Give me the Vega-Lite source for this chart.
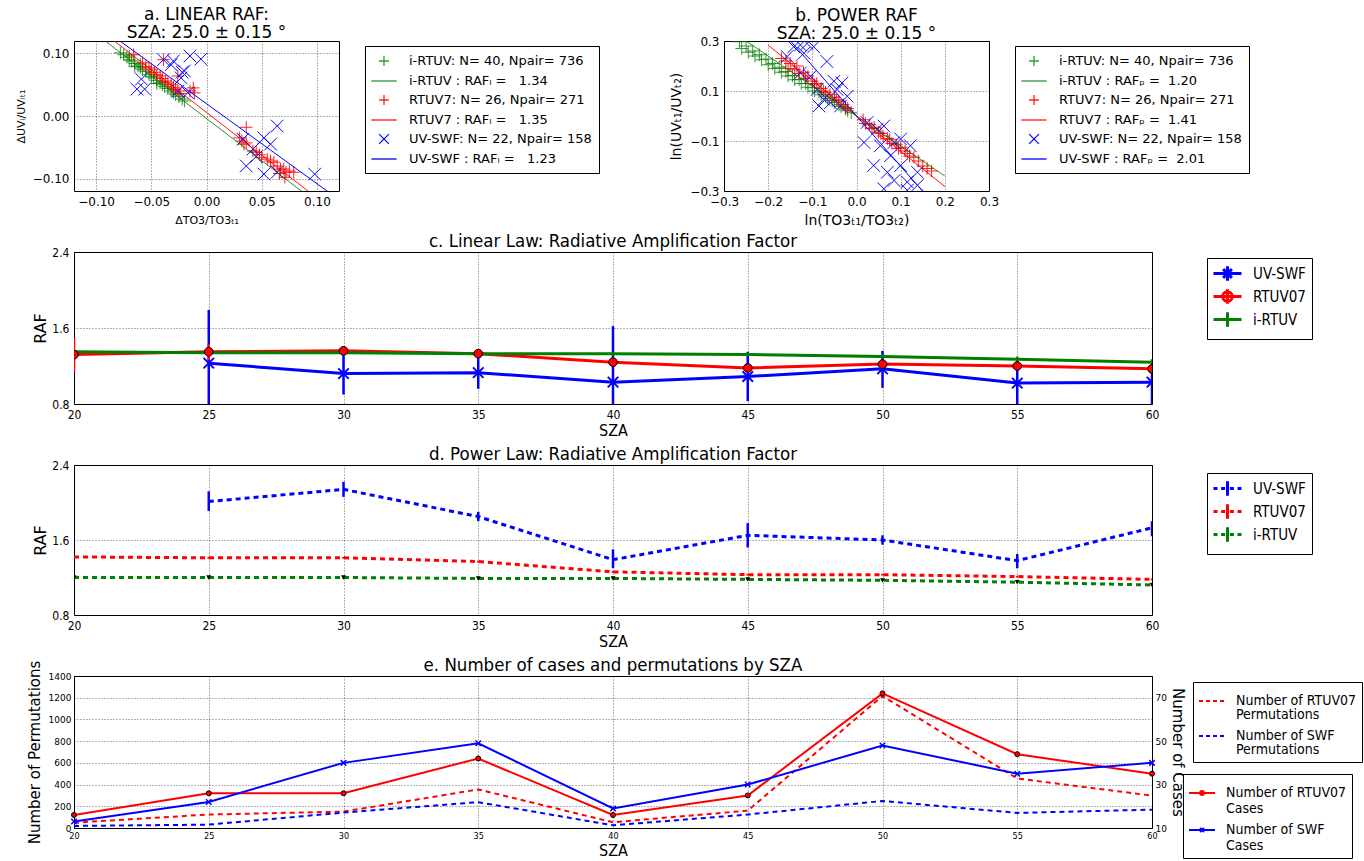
{
"$schema":"https://vega.github.io/schema/vega-lite/v6.json",
"background":"white",
"padding":{"left":14,"top":5,"right":2,"bottom":2},
"bounds":"flush",
"spacing":650,
"resolve":{"scale":{"color":"independent","shape":"independent","opacity":"independent"},"legend":{"color":"independent","shape":"independent","opacity":"independent"}},
"config":{
 "font":"DejaVu Sans",
 "view":{"stroke":"#000","strokeWidth":1},
 "axis":{"grid":true,"gridColor":"#000","gridDash":[1,2],"gridOpacity":0.75,"gridWidth":0.8,"domain":false,"ticks":false,"labelColor":"#000","titleColor":"#000","titleFontWeight":"normal","labelPadding":5,"labelOverlap":false,"labelFlush":false},
 "title":{"fontWeight":"normal","fontSize":17,"color":"#000","frame":"group"},
 "legend":{"strokeColor":"#000","fillColor":"#fff","labelColor":"#000","layout":{"right":{"anchor":"start","direction":"vertical","margin":18}}}
},
"datasets":{
 "ptsA":[
  {"s":"gp","x":-0.078,"y":0.101},{"s":"gp","x":-0.075,"y":0.098},{"s":"gp","x":-0.072,"y":0.094},{"s":"gp","x":-0.07,"y":0.09},{"s":"gp","x":-0.068,"y":0.088},{"s":"gp","x":-0.065,"y":0.084},{"s":"gp","x":-0.062,"y":0.08},{"s":"gp","x":-0.06,"y":0.077},{"s":"gp","x":-0.058,"y":0.074},{"s":"gp","x":-0.055,"y":0.071},{"s":"gp","x":-0.052,"y":0.066},{"s":"gp","x":-0.05,"y":0.063},{"s":"gp","x":-0.048,"y":0.061},{"s":"gp","x":-0.045,"y":0.057},{"s":"gp","x":-0.042,"y":0.053},{"s":"gp","x":-0.04,"y":0.05},{"s":"gp","x":-0.038,"y":0.047},{"s":"gp","x":-0.035,"y":0.044},{"s":"gp","x":-0.032,"y":0.04},{"s":"gp","x":-0.03,"y":0.037},{"s":"gp","x":-0.028,"y":0.034},{"s":"gp","x":-0.025,"y":0.031},{"s":"gp","x":-0.022,"y":0.027},{"s":"gp","x":-0.02,"y":0.024},{"s":"gp","x":-0.07,"y":0.096},{"s":"gp","x":-0.06,"y":0.083},{"s":"gp","x":-0.05,"y":0.069},{"s":"gp","x":-0.04,"y":0.055},{"s":"gp","x":-0.03,"y":0.042},{"s":"gp","x":-0.065,"y":0.079},{"s":"gp","x":-0.045,"y":0.052},
  {"s":"rp","x":-0.058,"y":0.085},{"s":"rp","x":-0.055,"y":0.079},{"s":"rp","x":-0.052,"y":0.077},{"s":"rp","x":-0.05,"y":0.074},{"s":"rp","x":-0.047,"y":0.07},{"s":"rp","x":-0.045,"y":0.066},{"s":"rp","x":-0.042,"y":0.064},{"s":"rp","x":-0.04,"y":0.06},{"s":"rp","x":-0.037,"y":0.056},{"s":"rp","x":-0.035,"y":0.053},{"s":"rp","x":-0.032,"y":0.05},{"s":"rp","x":-0.03,"y":0.046},{"s":"rp","x":-0.028,"y":0.043},{"s":"rp","x":-0.026,"y":0.04},{"s":"rp","x":-0.024,"y":0.036},{"s":"rp","x":-0.066,"y":0.098},{"s":"rp","x":-0.039,"y":0.09},{"s":"rp","x":-0.026,"y":0.064},{"s":"rp","x":-0.012,"y":0.045},{"s":"rp","x":-0.011,"y":0.037},{"s":"rp","x":-0.015,"y":0.04},
  {"s":"rp","x":0.036,"y":-0.018},{"s":"rp","x":0.03,"y":-0.035},{"s":"rp","x":0.032,"y":-0.04},{"s":"rp","x":0.034,"y":-0.045},{"s":"rp","x":0.036,"y":-0.043},{"s":"rp","x":0.042,"y":-0.056},{"s":"rp","x":0.045,"y":-0.058},{"s":"rp","x":0.048,"y":-0.062},{"s":"rp","x":0.05,"y":-0.066},{"s":"rp","x":0.055,"y":-0.069},{"s":"rp","x":0.058,"y":-0.072},{"s":"rp","x":0.061,"y":-0.074},{"s":"rp","x":0.064,"y":-0.08},{"s":"rp","x":0.067,"y":-0.085},{"s":"rp","x":0.07,"y":-0.085},{"s":"rp","x":0.072,"y":-0.09},{"s":"rp","x":0.075,"y":-0.088},{"s":"rp","x":0.079,"y":-0.09},{"s":"rp","x":0.071,"y":-0.098},{"s":"rp","x":0.066,"y":-0.092},
  {"s":"bp","x":-0.063,"y":0.043},{"s":"bp","x":-0.059,"y":0.059},{"s":"bp","x":-0.056,"y":0.043},{"s":"bp","x":-0.039,"y":0.09},{"s":"bp","x":-0.03,"y":0.088},{"s":"bp","x":-0.032,"y":0.082},{"s":"bp","x":-0.023,"y":0.061},{"s":"bp","x":-0.02,"y":0.072},{"s":"bp","x":-0.015,"y":0.096},{"s":"bp","x":-0.005,"y":0.091},{"s":"bp","x":-0.017,"y":0.037},{"s":"bp","x":-0.026,"y":0.04},{"s":"bp","x":-0.022,"y":0.07},{"s":"bp","x":0.033,"y":-0.037},{"s":"bp","x":0.042,"y":-0.053},{"s":"bp","x":0.052,"y":-0.035},{"s":"bp","x":0.064,"y":-0.016},{"s":"bp","x":0.058,"y":-0.045},{"s":"bp","x":0.036,"y":-0.08},{"s":"bp","x":0.052,"y":-0.093},{"s":"bp","x":0.064,"y":-0.09},{"s":"bp","x":0.098,"y":-0.093},{"s":"bp","x":0.045,"y":-0.065}
 ],
 "linA":[
  {"s":"gl","x":-0.0915,"y":0.1197},{"s":"gl","x":0.0864,"y":-0.1207},
  {"s":"rl","x":-0.0833,"y":0.1197},{"s":"rl","x":0.0924,"y":-0.1207},
  {"s":"bl","x":-0.0782,"y":0.1197},{"s":"bl","x":0.1097,"y":-0.1207}
 ],
 "ptsB":[
  {"s":"gp","x":-0.265,"y":0.297},{"s":"gp","x":-0.26,"y":0.27},{"s":"gp","x":-0.25,"y":0.28},{"s":"gp","x":-0.245,"y":0.255},{"s":"gp","x":-0.235,"y":0.26},{"s":"gp","x":-0.23,"y":0.24},{"s":"gp","x":-0.22,"y":0.245},{"s":"gp","x":-0.215,"y":0.225},{"s":"gp","x":-0.205,"y":0.228},{"s":"gp","x":-0.2,"y":0.205},{"s":"gp","x":-0.19,"y":0.21},{"s":"gp","x":-0.185,"y":0.19},{"s":"gp","x":-0.175,"y":0.195},{"s":"gp","x":-0.17,"y":0.175},{"s":"gp","x":-0.16,"y":0.178},{"s":"gp","x":-0.155,"y":0.16},{"s":"gp","x":-0.145,"y":0.162},{"s":"gp","x":-0.14,"y":0.145},{"s":"gp","x":-0.13,"y":0.146},{"s":"gp","x":-0.125,"y":0.13},{"s":"gp","x":-0.115,"y":0.13},{"s":"gp","x":-0.11,"y":0.115},{"s":"gp","x":-0.1,"y":0.113},{"s":"gp","x":-0.095,"y":0.1},{"s":"gp","x":-0.085,"y":0.095},{"s":"gp","x":-0.08,"y":0.085},{"s":"gp","x":-0.07,"y":0.079},{"s":"gp","x":-0.065,"y":0.07},{"s":"gp","x":-0.055,"y":0.062},{"s":"gp","x":-0.05,"y":0.054},{"s":"gp","x":-0.04,"y":0.045},{"s":"gp","x":-0.035,"y":0.038},{"s":"gp","x":-0.025,"y":0.028},{"s":"gp","x":-0.02,"y":0.021},{"s":"gp","x":-0.012,"y":0.013},
  {"s":"rp","x":-0.17,"y":0.23},{"s":"rp","x":-0.16,"y":0.22},{"s":"rp","x":-0.155,"y":0.19},{"s":"rp","x":-0.15,"y":0.21},{"s":"rp","x":-0.14,"y":0.185},{"s":"rp","x":-0.135,"y":0.2},{"s":"rp","x":-0.13,"y":0.17},{"s":"rp","x":-0.12,"y":0.175},{"s":"rp","x":-0.115,"y":0.15},{"s":"rp","x":-0.11,"y":0.16},{"s":"rp","x":-0.1,"y":0.14},{"s":"rp","x":-0.095,"y":0.125},{"s":"rp","x":-0.09,"y":0.13},{"s":"rp","x":-0.08,"y":0.11},{"s":"rp","x":-0.075,"y":0.1},{"s":"rp","x":-0.07,"y":0.095},{"s":"rp","x":-0.06,"y":0.085},{"s":"rp","x":-0.05,"y":0.075},{"s":"rp","x":-0.045,"y":0.065},{"s":"rp","x":-0.04,"y":0.06},{"s":"rp","x":-0.03,"y":0.045},{"s":"rp","x":-0.025,"y":0.035},{"s":"rp","x":-0.02,"y":0.03},
  {"s":"rp","x":0.015,"y":-0.015},{"s":"rp","x":0.02,"y":-0.03},{"s":"rp","x":0.03,"y":-0.035},{"s":"rp","x":0.035,"y":-0.05},{"s":"rp","x":0.04,"y":-0.045},{"s":"rp","x":0.05,"y":-0.065},{"s":"rp","x":0.055,"y":-0.07},{"s":"rp","x":0.06,"y":-0.08},{"s":"rp","x":0.07,"y":-0.09},{"s":"rp","x":0.075,"y":-0.095},{"s":"rp","x":0.08,"y":-0.11},{"s":"rp","x":0.09,"y":-0.115},{"s":"rp","x":0.095,"y":-0.13},{"s":"rp","x":0.1,"y":-0.125},{"s":"rp","x":0.11,"y":-0.14},{"s":"rp","x":0.115,"y":-0.15},{"s":"rp","x":0.12,"y":-0.16},{"s":"rp","x":0.13,"y":-0.165},{"s":"rp","x":0.14,"y":-0.18},{"s":"rp","x":0.15,"y":-0.2},{"s":"rp","x":0.16,"y":-0.21},{"s":"rp","x":0.17,"y":-0.22},
  {"s":"bp","x":-0.142,"y":0.277},{"s":"bp","x":-0.127,"y":0.284},{"s":"bp","x":-0.112,"y":0.29},{"s":"bp","x":-0.097,"y":0.277},{"s":"bp","x":-0.119,"y":0.251},{"s":"bp","x":-0.157,"y":0.238},{"s":"bp","x":-0.067,"y":0.218},{"s":"bp","x":-0.051,"y":0.139},{"s":"bp","x":-0.033,"y":0.132},{"s":"bp","x":-0.021,"y":0.079},{"s":"bp","x":-0.059,"y":0.053},{"s":"bp","x":-0.036,"y":0.04},{"s":"bp","x":-0.085,"y":0.04},{"s":"bp","x":-0.104,"y":0.159},{"s":"bp","x":-0.127,"y":0.172},{"s":"bp","x":-0.089,"y":0.106},{"s":"bp","x":-0.044,"y":0.106},{"s":"bp","x":-0.074,"y":0.066},
  {"s":"bp","x":0.024,"y":-0.026},{"s":"bp","x":0.047,"y":-0.053},{"s":"bp","x":0.062,"y":-0.04},{"s":"bp","x":0.017,"y":-0.106},{"s":"bp","x":0.054,"y":-0.119},{"s":"bp","x":0.085,"y":-0.106},{"s":"bp","x":0.1,"y":-0.092},{"s":"bp","x":0.122,"y":-0.119},{"s":"bp","x":0.077,"y":-0.159},{"s":"bp","x":0.039,"y":-0.198},{"s":"bp","x":0.07,"y":-0.225},{"s":"bp","x":0.1,"y":-0.198},{"s":"bp","x":0.085,"y":-0.258},{"s":"bp","x":0.115,"y":-0.264},{"s":"bp","x":0.138,"y":-0.225},{"s":"bp","x":0.062,"y":-0.291},{"s":"bp","x":0.115,"y":-0.297},{"s":"bp","x":0.138,"y":-0.277}
 ],
 "linB":[
  {"s":"gl","x":-0.26,"y":0.312},{"s":"gl","x":0.2,"y":-0.24},
  {"s":"rl","x":-0.2,"y":0.283},{"s":"rl","x":0.2,"y":-0.282},
  {"s":"bl","x":-0.15,"y":0.3015},{"s":"bl","x":0.15,"y":-0.3015}
 ],
 "c":[
  {"s":"UV-SWF","sza":25,"raf":1.23,"lo":0.7,"hi":1.79},{"s":"UV-SWF","sza":30,"raf":1.12,"lo":0.9,"hi":1.35},{"s":"UV-SWF","sza":35,"raf":1.13,"lo":0.96,"hi":1.31},{"s":"UV-SWF","sza":40,"raf":1.03,"lo":0.7,"hi":1.62},{"s":"UV-SWF","sza":45,"raf":1.09,"lo":0.83,"hi":1.35},{"s":"UV-SWF","sza":50,"raf":1.17,"lo":0.97,"hi":1.36},{"s":"UV-SWF","sza":55,"raf":1.02,"lo":0.7,"hi":1.25},{"s":"UV-SWF","sza":60,"raf":1.03,"lo":0.7,"hi":1.14},
  {"s":"RTUV07","sza":20,"raf":1.32,"lo":1.13,"hi":1.5},{"s":"RTUV07","sza":25,"raf":1.35,"lo":1.26,"hi":1.43},{"s":"RTUV07","sza":30,"raf":1.36,"lo":1.33,"hi":1.39},{"s":"RTUV07","sza":35,"raf":1.33,"lo":1.3,"hi":1.36},{"s":"RTUV07","sza":40,"raf":1.24,"lo":1.21,"hi":1.27},{"s":"RTUV07","sza":45,"raf":1.18,"lo":1.15,"hi":1.21},{"s":"RTUV07","sza":50,"raf":1.22,"lo":1.19,"hi":1.25},{"s":"RTUV07","sza":55,"raf":1.2,"lo":1.17,"hi":1.23},{"s":"RTUV07","sza":60,"raf":1.17,"lo":1.14,"hi":1.2},
  {"s":"i-RTUV","sza":20,"raf":1.35,"lo":1.33,"hi":1.37},{"s":"i-RTUV","sza":25,"raf":1.34,"lo":1.32,"hi":1.36},{"s":"i-RTUV","sza":30,"raf":1.34,"lo":1.32,"hi":1.36},{"s":"i-RTUV","sza":35,"raf":1.33,"lo":1.31,"hi":1.35},{"s":"i-RTUV","sza":40,"raf":1.33,"lo":1.31,"hi":1.35},{"s":"i-RTUV","sza":45,"raf":1.32,"lo":1.3,"hi":1.34},{"s":"i-RTUV","sza":50,"raf":1.3,"lo":1.28,"hi":1.32},{"s":"i-RTUV","sza":55,"raf":1.27,"lo":1.24,"hi":1.3},{"s":"i-RTUV","sza":60,"raf":1.24,"lo":1.21,"hi":1.27}
 ],
 "d":[
  {"s":"UV-SWF","sza":25,"raf":2.01,"lo":1.91,"hi":2.12},{"s":"UV-SWF","sza":30,"raf":2.14,"lo":2.06,"hi":2.22},{"s":"UV-SWF","sza":35,"raf":1.85,"lo":1.8,"hi":1.9},{"s":"UV-SWF","sza":40,"raf":1.39,"lo":1.3,"hi":1.5},{"s":"UV-SWF","sza":45,"raf":1.65,"lo":1.52,"hi":1.78},{"s":"UV-SWF","sza":50,"raf":1.6,"lo":1.55,"hi":1.65},{"s":"UV-SWF","sza":55,"raf":1.38,"lo":1.3,"hi":1.45},{"s":"UV-SWF","sza":60,"raf":1.73,"lo":1.64,"hi":1.8},
  {"s":"RTUV07","sza":20,"raf":1.42,"lo":1.41,"hi":1.43},{"s":"RTUV07","sza":25,"raf":1.41,"lo":1.4,"hi":1.42},{"s":"RTUV07","sza":30,"raf":1.41,"lo":1.4,"hi":1.42},{"s":"RTUV07","sza":35,"raf":1.37,"lo":1.36,"hi":1.38},{"s":"RTUV07","sza":40,"raf":1.26,"lo":1.25,"hi":1.27},{"s":"RTUV07","sza":45,"raf":1.23,"lo":1.22,"hi":1.24},{"s":"RTUV07","sza":50,"raf":1.23,"lo":1.22,"hi":1.24},{"s":"RTUV07","sza":55,"raf":1.21,"lo":1.2,"hi":1.22},{"s":"RTUV07","sza":60,"raf":1.18,"lo":1.17,"hi":1.19},
  {"s":"i-RTUV","sza":20,"raf":1.2,"lo":1.19,"hi":1.21},{"s":"i-RTUV","sza":25,"raf":1.2,"lo":1.19,"hi":1.21},{"s":"i-RTUV","sza":30,"raf":1.2,"lo":1.19,"hi":1.21},{"s":"i-RTUV","sza":35,"raf":1.19,"lo":1.18,"hi":1.2},{"s":"i-RTUV","sza":40,"raf":1.19,"lo":1.18,"hi":1.2},{"s":"i-RTUV","sza":45,"raf":1.18,"lo":1.17,"hi":1.19},{"s":"i-RTUV","sza":50,"raf":1.17,"lo":1.16,"hi":1.18},{"s":"i-RTUV","sza":55,"raf":1.15,"lo":1.14,"hi":1.16},{"s":"i-RTUV","sza":60,"raf":1.12,"lo":1.11,"hi":1.13}
 ],
 "ePerm":[
  {"s":"RP","sza":20,"v":49},{"s":"RP","sza":25,"v":124},{"s":"RP","sza":30,"v":151},{"s":"RP","sza":35,"v":355},{"s":"RP","sza":40,"v":53},{"s":"RP","sza":45,"v":160},{"s":"RP","sza":50,"v":1216},{"s":"RP","sza":55,"v":456},{"s":"RP","sza":60,"v":298},
  {"s":"SP","sza":20,"v":19},{"s":"SP","sza":25,"v":31},{"s":"SP","sza":30,"v":142},{"s":"SP","sza":35,"v":238},{"s":"SP","sza":40,"v":25},{"s":"SP","sza":45,"v":124},{"s":"SP","sza":50,"v":249},{"s":"SP","sza":55,"v":139},{"s":"SP","sza":60,"v":169}
 ],
 "eCase":[
  {"s":"RC","sza":20,"v":16},{"s":"RC","sza":25,"v":26},{"s":"RC","sza":30,"v":26},{"s":"RC","sza":35,"v":42},{"s":"RC","sza":40,"v":16},{"s":"RC","sza":45,"v":25},{"s":"RC","sza":50,"v":72},{"s":"RC","sza":55,"v":44},{"s":"RC","sza":60,"v":35},
  {"s":"SC","sza":20,"v":13},{"s":"SC","sza":25,"v":22},{"s":"SC","sza":30,"v":40},{"s":"SC","sza":35,"v":49},{"s":"SC","sza":40,"v":19},{"s":"SC","sza":45,"v":30},{"s":"SC","sza":50,"v":48},{"s":"SC","sza":55,"v":35},{"s":"SC","sza":60,"v":40}
 ]
},
"hconcat":[
 {"vconcat":[
  {"width":265,"height":150,
   "title":{"text":["a. LINEAR RAF:","SZA: 25.0 ± 0.15 °"],"fontSize":17,"lineHeight":18,"offset":-1},
   "layer":[
    {"data":{"name":"ptsA"},
     "mark":{"type":"point","filled":false,"strokeWidth":1,"size":324,"clip":true},
     "encoding":{
      "x":{"field":"x","type":"quantitative","scale":{"domain":[-0.12,0.12],"nice":false,"zero":false},"axis":{"values":[-0.1,-0.05,0,0.05,0.1],"format":".2f","labelFontSize":12,"labelOverlap":false,"title":"ΔTO3/TO3ₜ₁","titleFontSize":11,"titlePadding":7}},
      "y":{"field":"y","type":"quantitative","scale":{"domain":[-0.12,0.12],"nice":false,"zero":false},"axis":{"values":[-0.1,-0.05,0,0.05,0.1],"format":".2f","labelFontSize":12,"labelOverlap":false,"title":"ΔUVᵢ/UVᵢₜ₁","titleFontSize":11,"titlePadding":6}},
      "color":{"field":"s","type":"nominal","scale":{"domain":["gp","gl","rp","rl","bp","bl"],"range":["#008000","#008000","#ff0000","#ff0000","#0000ff","#0000ff"]},
        "legend":{"title":null,"orient":"none","legendX":291,"legendY":5,"padding":7,"strokeColor":"#000","labelFontSize":13,"symbolSize":196,"symbolOffset":4,"symbolStrokeWidth":1.3,"rowPadding":4,"labelOffset":17,"labelLimit":400,
          "labelExpr":"datum.label==='gp' ? 'i-RTUV: N= 40, Npair= 736' : datum.label==='gl' ? 'i-RTUV : RAFₗ =\u00a0\u00a0 1.34' : datum.label==='rp' ? 'RTUV7: N= 26, Npair= 271' : datum.label==='rl' ? 'RTUV7 : RAFₗ =\u00a0\u00a0 1.35' : datum.label==='bp' ? 'UV-SWF: N= 22, Npair= 158' : 'UV-SWF : RAFₗ =\u00a0\u00a0 1.23'"}},
      "shape":{"field":"s","type":"nominal","scale":{"domain":["gp","gl","rp","rl","bp","bl"],"range":["M-0.7,0L0.7,0M0,-0.7L0,0.7","M-1.8,0L1.8,0","M-0.7,0L0.7,0M0,-0.7L0,0.7","M-1.8,0L1.8,0","M-0.7,-0.7L0.7,0.7M-0.7,0.7L0.7,-0.7","M-1.8,0L1.8,0"]}},
      "opacity":{"field":"s","type":"nominal","scale":{"domain":["gp","gl","rp","rl","bp","bl"],"range":[0.8,1,0.4,1,0.3,1]}}
     }},
    {"data":{"name":"linA"},"mark":{"type":"line","strokeWidth":1,"clip":true},
     "encoding":{"x":{"field":"x","type":"quantitative"},"y":{"field":"y","type":"quantitative"},
      "color":{"field":"s","type":"nominal","scale":{"domain":["gp","gl","rp","rl","bp","bl"],"range":["#008000","#008000","#ff0000","#ff0000","#0000ff","#0000ff"]}},
      "opacity":{"field":"s","type":"nominal","scale":{"domain":["gp","gl","rp","rl","bp","bl"],"range":[0.8,1,0.4,1,0.3,1]}}}}
   ]},
  {"width":1078,"height":152,
   "title":{"text":"c. Linear Law: Radiative Amplification Factor","font":"DejaVu Sans Condensed, Liberation Sans Narrow, DejaVu Sans","fontSize":18.5,"offset":1,"dy":5},
   "data":{"name":"c"},
   "encoding":{"x":{"field":"sza","type":"quantitative","scale":{"domain":[20,60],"nice":false,"zero":false},"axis":{"values":[20,25,30,35,40,45,50,55,60],"title":"SZA","labelOverlap":false,"labelFont":"DejaVu Sans Condensed, Liberation Sans Narrow, DejaVu Sans","labelFontSize":12,"titleFont":"DejaVu Sans Condensed, Liberation Sans Narrow, DejaVu Sans","titleFontSize":16,"titlePadding":2}}},
   "layer":[
    {"mark":{"type":"rule","strokeWidth":2.5,"clip":true},
     "encoding":{"y":{"field":"lo","type":"quantitative","scale":{"domain":[0.8,2.4],"nice":false,"zero":false},"axis":{"values":[0.8,1.0,1.2,1.4,1.6,1.8,2.0,2.2,2.4],"format":".1f","labelOverlap":false,"title":"RAF","labelFont":"DejaVu Sans Condensed, Liberation Sans Narrow, DejaVu Sans","labelFontSize":12,"titleFontSize":16,"titlePadding":3}},"y2":{"field":"hi"},
      "color":{"field":"s","type":"nominal","scale":{"domain":["UV-SWF","RTUV07","i-RTUV"],"range":["#0000ff","#ff0000","#008000"]}}}},
    {"mark":{"type":"line","strokeWidth":3,"clip":true},"encoding":{"y":{"field":"raf","type":"quantitative"},"color":{"field":"s","type":"nominal","scale":{"domain":["UV-SWF","RTUV07","i-RTUV"],"range":["#0000ff","#ff0000","#008000"]}}}},
    {"transform":[{"filter":"datum.s==='UV-SWF'"}],"mark":{"type":"point","shape":"M-1,-1L1,1M-1,1L1,-1","filled":false,"stroke":"#0000ff","strokeWidth":2,"size":110,"opacity":1,"clip":true},"encoding":{"y":{"field":"raf","type":"quantitative"}}},
    {"transform":[{"filter":"datum.s==='RTUV07'"}],"mark":{"type":"point","shape":"circle","filled":true,"fill":"#ff0000","stroke":"#000","strokeWidth":1,"size":75,"opacity":1,"clip":true},"encoding":{"y":{"field":"raf","type":"quantitative"}}},
    {"transform":[{"filter":"false"}],"mark":{"type":"point","filled":false,"opacity":1},
     "encoding":{"y":{"field":"raf","type":"quantitative"},
      "color":{"field":"s","type":"nominal","scale":{"domain":["UV-SWF","RTUV07","i-RTUV"],"range":["#0000ff","#ff0000","#008000"]},
       "legend":{"title":null,"orient":"none","legendX":1133,"legendY":6,"padding":6,"strokeColor":"#000","labelFont":"DejaVu Sans Condensed, Liberation Sans Narrow, DejaVu Sans","labelFontSize":15,"symbolSize":256,"symbolOffset":5,"symbolStrokeWidth":3,"rowPadding":-13,"labelOffset":16,
        "encode":{"symbols":{"update":{"fill":{"signal":"datum.value==='RTUV07' ? '#ff0000' : 'transparent'"}}}}}},
      "shape":{"field":"s","type":"nominal","scale":{"domain":["UV-SWF","RTUV07","i-RTUV"],"range":["M-1.75,0L1.75,0M0,-0.9L0,0.9M-0.55,-0.55L0.55,0.55M-0.55,0.55L0.55,-0.55","M-1.75,0L1.75,0M0,-0.9L0,0.9M-0.6,0A0.6,0.6,0,1,0,0.6,0A0.6,0.6,0,1,0,-0.6,0","M-1.75,0L1.75,0M0,-0.9L0,0.9"]}}}}
   ]},
  {"width":1078,"height":150,
   "title":{"text":"d. Power Law: Radiative Amplification Factor","font":"DejaVu Sans Condensed, Liberation Sans Narrow, DejaVu Sans","fontSize":18.5,"offset":1,"dy":5},
   "data":{"name":"d"},
   "encoding":{"x":{"field":"sza","type":"quantitative","scale":{"domain":[20,60],"nice":false,"zero":false},"axis":{"values":[20,25,30,35,40,45,50,55,60],"title":"SZA","labelOverlap":false,"labelFont":"DejaVu Sans Condensed, Liberation Sans Narrow, DejaVu Sans","labelFontSize":12,"titleFont":"DejaVu Sans Condensed, Liberation Sans Narrow, DejaVu Sans","titleFontSize":16,"titlePadding":2}}},
   "layer":[
    {"mark":{"type":"rule","strokeWidth":2.5,"clip":true},
     "encoding":{"y":{"field":"lo","type":"quantitative","scale":{"domain":[0.8,2.4],"nice":false,"zero":false},"axis":{"values":[0.8,1.0,1.2,1.4,1.6,1.8,2.0,2.2,2.4],"format":".1f","labelOverlap":false,"title":"RAF","labelFont":"DejaVu Sans Condensed, Liberation Sans Narrow, DejaVu Sans","labelFontSize":12,"titleFontSize":16,"titlePadding":3}},"y2":{"field":"hi"},
      "color":{"field":"s","type":"nominal","scale":{"domain":["UV-SWF","RTUV07","i-RTUV"],"range":["#0000ff","#ff0000","#008000"]}}}},
    {"mark":{"type":"line","strokeWidth":3,"strokeDash":[5,4],"clip":true},"encoding":{"y":{"field":"raf","type":"quantitative"},"color":{"field":"s","type":"nominal","scale":{"domain":["UV-SWF","RTUV07","i-RTUV"],"range":["#0000ff","#ff0000","#008000"]}}}},
    {"transform":[{"filter":"datum.s==='i-RTUV'"}],"mark":{"type":"point","shape":"triangle-down","filled":true,"fill":"#000","size":25,"opacity":1,"clip":true},"encoding":{"y":{"field":"raf","type":"quantitative"}}},
    {"transform":[{"filter":"false"}],"mark":{"type":"point","filled":false,"opacity":1},
     "encoding":{"y":{"field":"raf","type":"quantitative"},
      "color":{"field":"s","type":"nominal","scale":{"domain":["UV-SWF","RTUV07","i-RTUV"],"range":["#0000ff","#ff0000","#008000"]},
       "legend":{"title":null,"orient":"none","legendX":1133,"legendY":8,"padding":6,"strokeColor":"#000","labelFont":"DejaVu Sans Condensed, Liberation Sans Narrow, DejaVu Sans","labelFontSize":15,"symbolSize":256,"symbolOffset":5,"symbolStrokeWidth":3,"rowPadding":-13,"labelOffset":16}},
      "shape":{"field":"s","type":"nominal","scale":{"domain":["UV-SWF","RTUV07","i-RTUV"],"range":["M-1.75,0L-1.25,0M-0.8,0L-0.3,0M0.3,0L0.8,0M1.25,0L1.75,0M0,-0.9L0,0.9","M-1.75,0L-1.25,0M-0.8,0L-0.3,0M0.3,0L0.8,0M1.25,0L1.75,0M0,-0.9L0,0.9","M-1.75,0L-1.25,0M-0.8,0L-0.3,0M0.3,0L0.8,0M1.25,0L1.75,0M0,-0.9L0,0.9"]}}}}
   ]},
  {"width":1078,"height":152,
   "title":{"text":"e. Number of cases and permutations by SZA","font":"DejaVu Sans Condensed, Liberation Sans Narrow, DejaVu Sans","fontSize":18.5,"offset":1,"dy":15},
   "layer":[
    {"data":{"name":"ePerm"},"mark":{"type":"line","strokeWidth":2,"strokeDash":[5,4],"clip":true},
     "encoding":{
      "x":{"field":"sza","type":"quantitative","scale":{"domain":[20,60],"nice":false,"zero":false},"axis":{"values":[20,25,30,35,40,45,50,55,60],"title":"SZA","labelOverlap":false,"labelFont":"DejaVu Sans Condensed, Liberation Sans Narrow, DejaVu Sans","labelFontSize":9,"titleFont":"DejaVu Sans Condensed, Liberation Sans Narrow, DejaVu Sans","titleFontSize":16,"titlePadding":2,"labelPadding":3}},
      "y":{"field":"v","type":"quantitative","scale":{"domain":[0,1400],"nice":false,"zero":false},"axis":{"orient":"left","values":[0,200,400,600,800,1000,1200,1400],"format":"d","labelOverlap":false,"title":"Number of Permutations","labelFontSize":9,"titleFontSize":15,"titlePadding":6,"labelPadding":3}},
      "color":{"field":"s","type":"nominal","scale":{"domain":["RP","SP"],"range":["#ff0000","#0000ff"]},
       "legend":{"title":null,"orient":"none","legendX":1119,"legendY":6,"padding":5,"strokeColor":"#000","labelFont":"DejaVu Sans Condensed, Liberation Sans Narrow, DejaVu Sans","labelFontSize":14,"labelLimit":300,"symbolType":"stroke","symbolDash":[4,3],"symbolSize":676,"symbolStrokeWidth":2,"rowPadding":0,"labelOffset":10,
        "labelExpr":"datum.label==='RP' ? ['Number of RTUV07',' Permutations'] : ['Number of SWF',' Permutations']",
        "encode":{"labels":{"update":{"lineHeight":{"value":14}}}}}}}},
    {"data":{"name":"eCase"},
     "layer":[
      {"mark":{"type":"line","strokeWidth":2,"clip":true},
       "encoding":{
        "x":{"field":"sza","type":"quantitative"},
        "y":{"field":"v","type":"quantitative","scale":{"domain":[10,80],"nice":false,"zero":false},"axis":{"orient":"right","values":[10,20,30,40,50,60,70,80],"labelOverlap":false,"title":"Number of Cases","labelFontSize":9,"titleFontSize":15,"titlePadding":3,"labelPadding":3,"grid":false}},
        "color":{"field":"s","type":"nominal","scale":{"domain":["RC","SC"],"range":["#ff0000","#0000ff"]}}}},
      {"transform":[{"filter":"datum.s==='RC'"}],"mark":{"type":"point","shape":"circle","filled":true,"fill":"#ff0000","stroke":"#000","strokeWidth":1,"size":25,"opacity":1},"encoding":{"x":{"field":"sza","type":"quantitative"},"y":{"field":"v","type":"quantitative"}}},
      {"transform":[{"filter":"datum.s==='SC'"}],"mark":{"type":"point","shape":"M-1,-1L1,1M-1,1L1,-1","filled":false,"stroke":"#0000ff","strokeWidth":1.5,"size":30,"opacity":1},"encoding":{"x":{"field":"sza","type":"quantitative"},"y":{"field":"v","type":"quantitative"}}},
      {"transform":[{"filter":"false"}],"mark":{"type":"point","filled":false,"opacity":1},
       "encoding":{"x":{"field":"sza","type":"quantitative"},"y":{"field":"v","type":"quantitative"},
        "color":{"field":"s","type":"nominal","scale":{"domain":["RC","SC"],"range":["#ff0000","#0000ff"]},
         "legend":{"title":null,"orient":"none","legendX":1109,"legendY":98,"padding":5,"strokeColor":"#000","labelFont":"DejaVu Sans Condensed, Liberation Sans Narrow, DejaVu Sans","labelFontSize":14,"labelLimit":300,"symbolSize":676,"symbolStrokeWidth":2,"rowPadding":-4,"labelOffset":10,
          "labelExpr":"datum.label==='RC' ? ['Number of RTUV07',' Cases'] : ['Number of SWF',' Cases']",
          "encode":{"symbols":{"update":{"fill":{"signal":"datum.value==='RC' ? '#ff0000' : 'transparent'"}}},"labels":{"update":{"lineHeight":{"value":14}}}}}},
        "shape":{"field":"s","type":"nominal","scale":{"domain":["RC","SC"],"range":["M-1,0L1,0M-0.15,0A0.15,0.15,0,1,0,0.15,0A0.15,0.15,0,1,0,-0.15,0","M-1,0L1,0M-0.15,-0.15L0.15,0.15M-0.15,0.15L0.15,-0.15"]}}}}
     ]}
   ],
   "resolve":{"scale":{"y":"independent","color":"independent","shape":"independent"}}}
 ],"spacing":61,"bounds":"flush",
 "resolve":{"scale":{"color":"independent","shape":"independent","opacity":"independent"},"legend":{"color":"independent","shape":"independent","opacity":"independent"}}},
 {"width":265,"height":150,
  "title":{"text":["b. POWER RAF","SZA: 25.0 ± 0.15 °"],"fontSize":17,"lineHeight":18,"offset":-1,"dy":7},
  "layer":[
   {"data":{"name":"ptsB"},
    "mark":{"type":"point","filled":false,"strokeWidth":1,"size":324,"clip":true},
    "encoding":{
     "x":{"field":"x","type":"quantitative","scale":{"domain":[-0.3,0.3],"nice":false,"zero":false},"axis":{"values":[-0.3,-0.2,-0.1,0,0.1,0.2,0.3],"format":".1f","labelOverlap":false,"labelFontSize":12,"title":"ln(TO3ₜ₁/TO3ₜ₂)","titleFontSize":14,"titlePadding":6}},
     "y":{"field":"y","type":"quantitative","scale":{"domain":[-0.3,0.3],"nice":false,"zero":false},"axis":{"values":[-0.3,-0.2,-0.1,0,0.1,0.2,0.3],"format":".1f","labelOverlap":false,"labelFontSize":12,"title":"ln(UVₜ₁/UVₜ₂)","titleFontSize":14,"titlePadding":6}},
     "color":{"field":"s","type":"nominal","scale":{"domain":["gp","gl","rp","rl","bp","bl"],"range":["#008000","#008000","#ff0000","#ff0000","#0000ff","#0000ff"]},
       "legend":{"title":null,"orient":"none","legendX":291,"legendY":5,"padding":7,"strokeColor":"#000","labelFontSize":13,"symbolSize":196,"symbolOffset":4,"symbolStrokeWidth":1.3,"rowPadding":4,"labelOffset":17,"labelLimit":400,
         "labelExpr":"datum.label==='gp' ? 'i-RTUV: N= 40, Npair= 736' : datum.label==='gl' ? 'i-RTUV : RAFₚ =\u00a0 1.20' : datum.label==='rp' ? 'RTUV7: N= 26, Npair= 271' : datum.label==='rl' ? 'RTUV7 : RAFₚ =\u00a0 1.41' : datum.label==='bp' ? 'UV-SWF: N= 22, Npair= 158' : 'UV-SWF : RAFₚ =\u00a0 2.01'"}},
     "shape":{"field":"s","type":"nominal","scale":{"domain":["gp","gl","rp","rl","bp","bl"],"range":["M-0.7,0L0.7,0M0,-0.7L0,0.7","M-1.8,0L1.8,0","M-0.7,0L0.7,0M0,-0.7L0,0.7","M-1.8,0L1.8,0","M-0.7,-0.7L0.7,0.7M-0.7,0.7L0.7,-0.7","M-1.8,0L1.8,0"]}},
     "opacity":{"field":"s","type":"nominal","scale":{"domain":["gp","gl","rp","rl","bp","bl"],"range":[0.8,1,0.4,1,0.3,1]}}
    }},
   {"data":{"name":"linB"},"mark":{"type":"line","strokeWidth":1,"clip":true},
    "encoding":{"x":{"field":"x","type":"quantitative"},"y":{"field":"y","type":"quantitative"},
     "color":{"field":"s","type":"nominal","scale":{"domain":["gp","gl","rp","rl","bp","bl"],"range":["#008000","#008000","#ff0000","#ff0000","#0000ff","#0000ff"]}},
     "opacity":{"field":"s","type":"nominal","scale":{"domain":["gp","gl","rp","rl","bp","bl"],"range":[0.8,1,0.4,1,0.3,1]}}}}
  ]}
]
}
